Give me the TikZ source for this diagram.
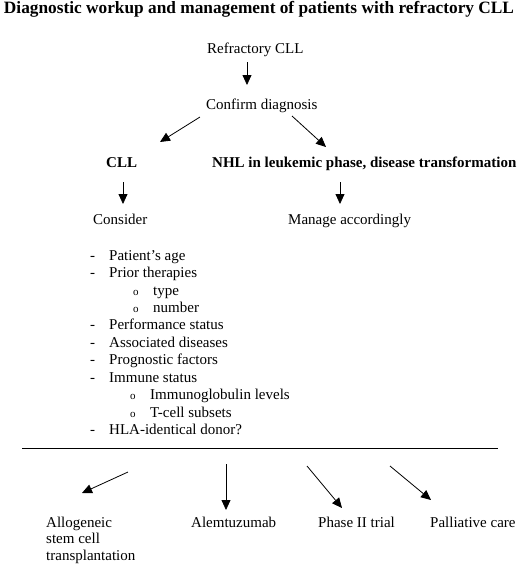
\documentclass[tikz,border=0pt]{standalone}
\usepackage{fontspec}
\setmainfont{Liberation Serif}
\usepackage{tikz}
\usetikzlibrary{arrows.meta}

\newcommand{\dashmark}{\makebox[19pt][l]{-}}
\newcommand{\circmark}{\makebox[20pt][l]{{\fontsize{11}{11}\selectfont o}}}

\begin{document}
\begin{tikzpicture}[
    x=1pt, y=-1pt,
    txt/.style={inner sep=0pt, anchor=base west, font=\fontsize{15}{16.5}\selectfont},
    bold/.style={txt, font=\fontsize{15}{16.5}\selectfont\bfseries},
    arr/.style={-{Triangle[length=10pt, width=9pt]}, line width=0.8pt},
]
    \useasboundingbox (0,0) rectangle (520,566);

    % ── Title ──
    \node[bold, anchor=base, font=\fontsize{17.3}{20}\selectfont\bfseries] (title) at (259,13)
        {Diagnostic workup and management of patients with refractory CLL};

    % ── Top of the tree ──
    \node[txt] (ref) at (207,53) {Refractory CLL};
    \node[txt] (confirm) at (206,109) {Confirm diagnosis};

    \draw[arr] ([shift={(40,9)}]ref.base west) -- ([shift={(41,-24)}]confirm.base west);

    % ── Two branches ──
    \node[bold] (cll) at (106,167) {CLL};
    \node[bold] (nhl) at (212,167) {NHL in leukemic phase, disease transformation};

    \draw[arr] ([shift={(-6,8)}]confirm.base west) -- ([shift={(54,-25)}]cll.base west);
    \draw[arr] ([shift={(86,7)}]confirm.base west) -- ([shift={(114,-20)}]nhl.base west);

    \node[txt] (consider) at (93,224) {Consider};
    \node[txt] (manage) at (288,224) {Manage accordingly};

    \draw[arr] ([shift={(17,15)}]cll.base west) -- ([shift={(30,-20)}]consider.base west);
    \draw[arr] ([shift={(128,15)}]nhl.base west) -- ([shift={(52,-20)}]manage.base west);

    % ── Things to consider ──
    \node[txt] (age) at (90,260) {\dashmark Patient’s age};
    \node[txt] (prior) at (90,277) {\dashmark Prior therapies};
    \node[txt] (type) at (133,295) {\circmark type};
    \node[txt] (number) at (133,312) {\circmark number};
    \node[txt] (perf) at (90,329) {\dashmark Performance status};
    \node[txt] (assoc) at (90,347) {\dashmark Associated diseases};
    \node[txt] (progn) at (90,364) {\dashmark Prognostic factors};
    \node[txt] (immune) at (90,382) {\dashmark Immune status};
    \node[txt] (immglob) at (130,399) {\circmark Immunoglobulin levels};
    \node[txt] (tcell) at (130,417) {\circmark T-cell subsets};
    \node[txt] (hla) at (90,434) {\dashmark HLA-identical donor?};

    % ── Separator ──
    \coordinate (rule-l) at (22,448);
    \coordinate (rule-r) at (498,448);
    \draw[line width=0.8pt] (rule-l) -- (rule-r);

    % ── Treatment options ──
    \node[txt, anchor=north west, align=left] (allo) at (46,516.8)
        {Allogeneic\\stem cell\\transplantation};
    \node[txt] (alem) at (191,527) {Alemtuzumab};
    \node[txt] (phase) at (318,527) {Phase II trial};
    \node[txt] (pall) at (430,527) {Palliative care};

    \coordinate (t1) at (128,472);
    \coordinate (t2) at (226,464);
    \coordinate (t3) at (307,466);
    \coordinate (t4) at (390,466);

    \draw[arr] (t1) -- ([shift={(36,-23.8)}]allo.north west);
    \draw[arr] (t2) -- ([shift={(35,-17)}]alem.base west);
    \draw[arr] (t3) -- ([shift={(24,-19)}]phase.base west);
    \draw[arr] (t4) -- ([shift={(1,-27)}]pall.base west);

\end{tikzpicture}
\end{document}
